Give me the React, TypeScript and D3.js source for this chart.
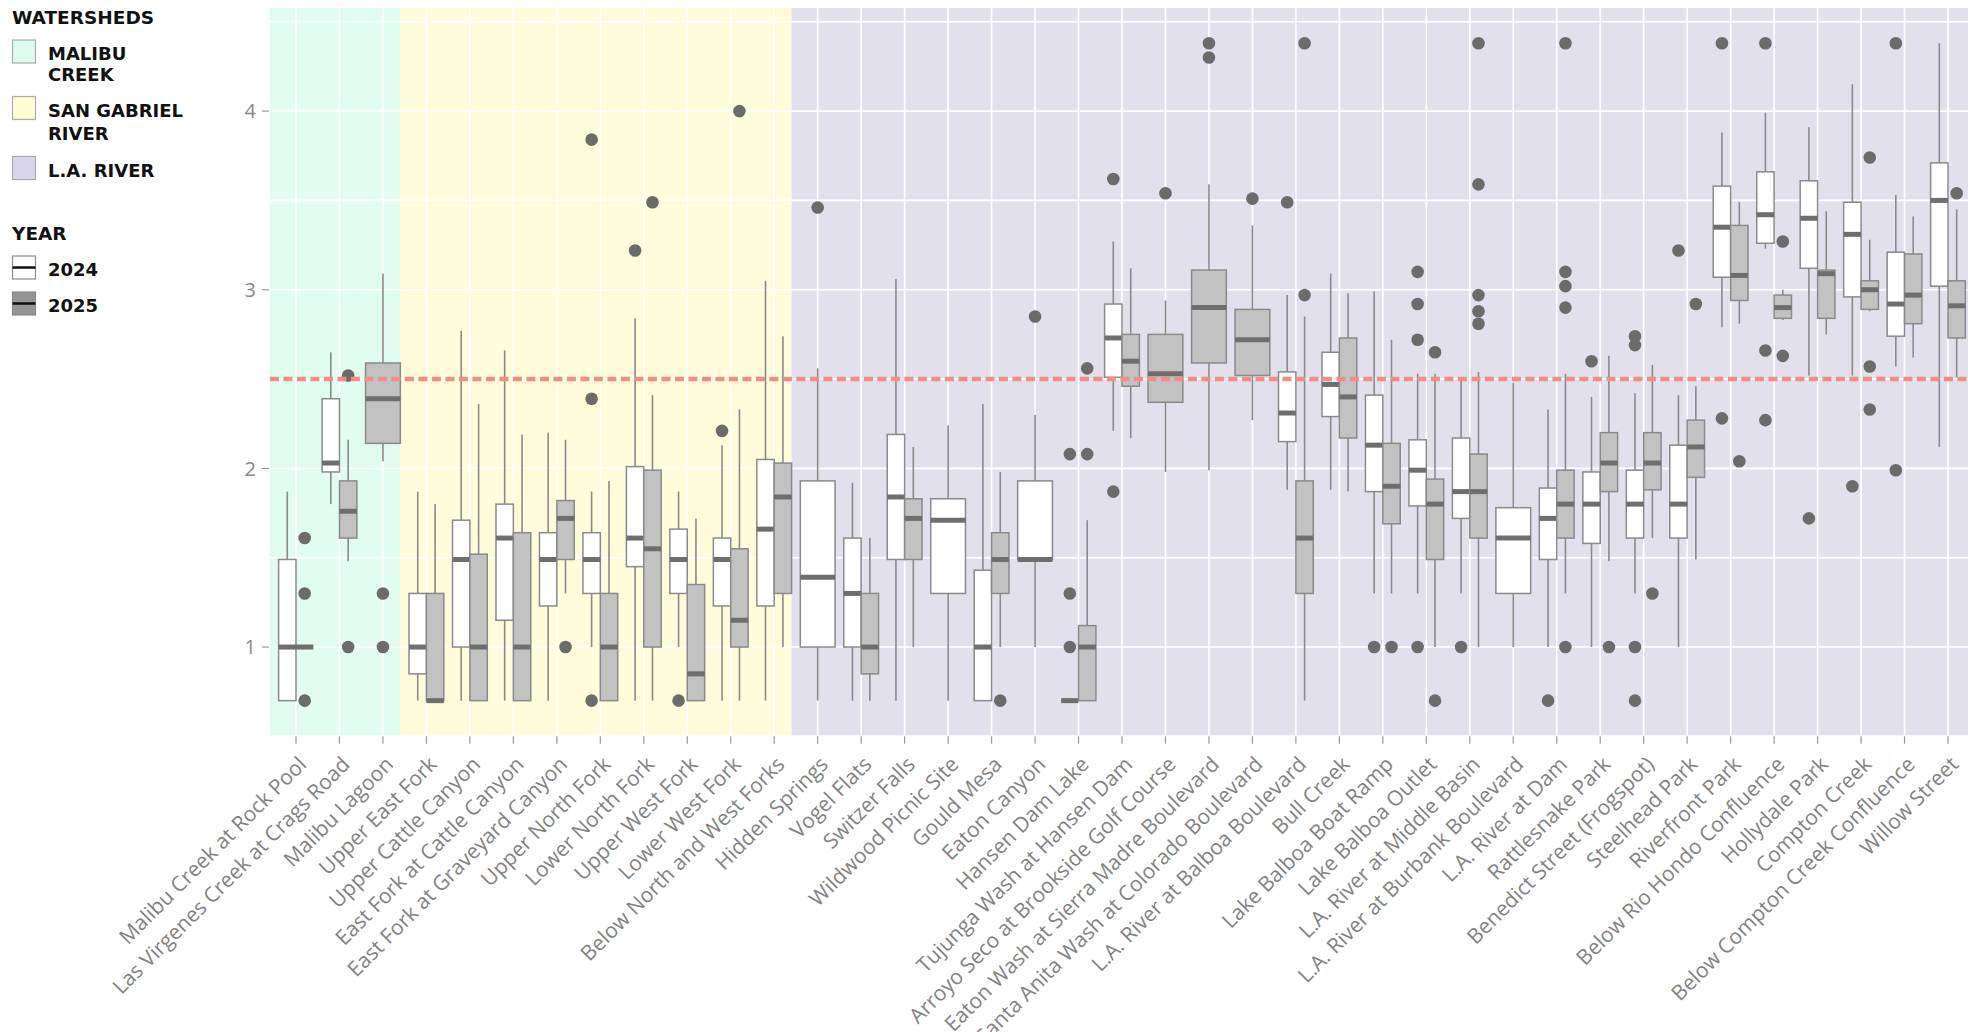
import React from 'react';
import * as d3 from 'd3';

const sites = [
  'Malibu Creek at Rock Pool', 'Las Virgenes Creek at Crags Road', 'Malibu Lagoon',
  'Upper East Fork', 'Upper Cattle Canyon', 'East Fork at Cattle Canyon', 'East Fork at Graveyard Canyon',
  'Upper North Fork', 'Lower North Fork', 'Upper West Fork', 'Lower West Fork', 'Below North and West Forks',
  'Hidden Springs', 'Vogel Flats', 'Switzer Falls', 'Wildwood Picnic Site', 'Gould Mesa', 'Eaton Canyon',
  'Hansen Dam Lake', 'Tujunga Wash at Hansen Dam', 'Arroyo Seco at Brookside Golf Course',
  'Eaton Wash at Sierra Madre Boulevard', 'Santa Anita Wash at Colorado Boulevard', 'L.A. River at Balboa Boulevard',
  'Bull Creek', 'Lake Balboa Boat Ramp', 'Lake Balboa Outlet', 'L.A. River at Middle Basin',
  'L.A. River at Burbank Boulevard', 'L.A. River at Dam', 'Rattlesnake Park', 'Benedict Street (Frogspot)',
  'Steelhead Park', 'Riverfront Park', 'Below Rio Hondo Confluence', 'Hollydale Park', 'Compton Creek',
  'Below Compton Creek Confluence', 'Willow Street',
];

const watersheds = ['MALIBU CREEK', 'SAN GABRIEL RIVER', 'L.A. RIVER'];
const watershedLegendLines = [['MALIBU', 'CREEK'], ['SAN GABRIEL', 'RIVER'], ['L.A. RIVER']];
const watershedSiteCounts = [3, 9, 27];
const watershedColors = ['#E1FCF0', '#FEFCDA', '#E3E0EE'];
const watershedLegendColors = ['#DDFBEE', '#FFFDD3', '#DAD6E9'];

const years = ['2024', '2025'];
const yearFills = ['#FFFFFF', '#C2C2C2'];
const yTicks = [1, 2, 3, 4];
const yGrid = [1, 1.5, 2, 2.5, 3, 3.5, 4, 4.5];
const threshold = 2.5;

const q1_2024 = [0.7, 1.98, null, 0.85, 1.0, 1.15, 1.23, 1.3, 1.45, 1.3, 1.23, 1.23, 1.0, 1.0, 1.49, 1.3, 0.7, 1.49, 0.7, 2.51, null, null, null, 2.15, 2.29, 1.87, 1.79, 1.72, 1.3, 1.49, 1.58, 1.61, 1.61, 3.07, 3.26, 3.12, 2.96, 2.74, 3.02];
const med_2024 = [1.0, 2.03, null, 1.0, 1.49, 1.61, 1.49, 1.49, 1.61, 1.49, 1.49, 1.66, 1.39, 1.3, 1.84, 1.71, 1.0, 1.49, 0.7, 2.73, null, null, null, 2.31, 2.47, 2.13, 1.99, 1.87, 1.61, 1.72, 1.80, 1.80, 1.80, 3.35, 3.42, 3.40, 3.31, 2.92, 3.50];
const q3_2024 = [1.49, 2.39, null, 1.3, 1.71, 1.80, 1.64, 1.64, 2.01, 1.66, 1.61, 2.05, 1.93, 1.61, 2.19, 1.83, 1.43, 1.93, 0.7, 2.92, null, null, null, 2.54, 2.65, 2.41, 2.16, 2.17, 1.78, 1.89, 1.98, 1.99, 2.13, 3.58, 3.66, 3.61, 3.49, 3.21, 3.71];
const lo_2024 = [0.7, 1.80, null, 0.7, 0.7, 0.7, 0.7, 1.0, 0.7, 1.0, 0.7, 0.7, 0.7, 0.7, 0.7, 0.7, 0.7, 1.0, 0.7, 2.21, null, null, null, 1.88, 1.88, 1.3, 1.3, 1.3, 1.0, 1.0, 1.0, 1.3, 1.0, 2.79, 3.23, 2.52, 2.52, 2.57, 2.12];
const hi_2024 = [1.87, 2.65, null, 1.87, 2.77, 2.66, 2.20, 1.87, 2.84, 1.87, 2.13, 3.05, 2.56, 1.92, 3.06, 2.24, 2.36, 2.30, 0.7, 3.27, null, null, null, 2.97, 3.09, 2.99, 2.53, 2.49, 2.48, 2.33, 2.40, 2.42, 2.41, 3.88, 3.99, 3.91, 4.15, 3.53, 4.38];
const out_2024 = [[], [], [], [], [], [], [], [3.84, 2.39, 0.7], [3.22], [0.7], [2.21], [], [3.46], [], [], [], [], [2.85], [2.08, 1.3, 1.0], [3.62, 1.87], [], [], [], [3.49], [], [1.0], [3.10, 2.92, 2.72, 1.0], [1.0], [], [0.7], [2.60], [2.74, 2.69, 1.0, 0.7], [3.22], [4.38, 2.28], [4.38, 2.66, 2.27], [1.72], [1.90], [4.38, 1.99], []];

const q1_2025 = [1.0, 1.61, 2.14, 0.7, 0.7, 0.7, 1.49, 0.7, 1.0, 0.7, 1.0, 1.3, null, 0.85, 1.49, null, 1.3, null, 0.7, 2.46, 2.37, 2.59, 2.52, 1.3, 2.17, 1.69, 1.49, 1.61, null, 1.61, 1.87, 1.88, 1.95, 2.94, 2.84, 2.84, 2.89, 2.81, 2.73];
const med_2025 = [1.0, 1.76, 2.39, 0.7, 1.0, 1.0, 1.72, 1.0, 1.55, 0.85, 1.15, 1.84, null, 1.0, 1.72, null, 1.49, null, 1.0, 2.60, 2.53, 2.90, 2.72, 1.61, 2.40, 1.90, 1.80, 1.87, null, 1.80, 2.03, 2.03, 2.12, 3.08, 2.90, 3.09, 3.00, 2.97, 2.91];
const q3_2025 = [1.0, 1.93, 2.59, 1.3, 1.52, 1.64, 1.82, 1.3, 1.99, 1.35, 1.55, 2.03, null, 1.3, 1.83, null, 1.64, null, 1.12, 2.75, 2.75, 3.11, 2.89, 1.93, 2.73, 2.14, 1.94, 2.08, null, 1.99, 2.20, 2.20, 2.27, 3.36, 2.97, 3.11, 3.05, 3.20, 3.05];
const lo_2025 = [1.0, 1.48, 2.04, 0.7, 0.7, 0.7, 1.3, 0.7, 0.7, 0.7, 0.7, 1.0, null, 0.7, 1.0, null, 1.0, null, 0.7, 2.17, 1.98, 1.99, 2.27, 0.7, 1.87, 1.3, 1.0, 1.0, null, 1.3, 1.48, 1.61, 1.49, 2.81, 2.83, 2.75, 2.88, 2.62, 2.51];
const hi_2025 = [1.0, 2.16, 3.09, 1.8, 2.36, 2.19, 2.16, 1.93, 2.41, 1.72, 2.33, 2.74, null, 1.61, 2.12, null, 1.98, null, 1.71, 3.12, 2.94, 3.59, 3.36, 2.85, 2.98, 2.72, 2.53, 2.54, null, 2.53, 2.63, 2.58, 2.46, 3.49, 3.00, 3.44, 3.28, 3.41, 3.45];
const out_2025 = [[1.61, 1.3, 0.7], [2.52, 1.0], [1.3, 1.0], [], [], [], [1.0], [], [3.49], [], [4.0], [], [], [], [], [], [0.7], [], [2.56, 2.08], [], [3.54], [4.38, 4.30], [3.51], [4.38, 2.97], [], [1.0], [2.65, 0.7], [4.38, 3.59, 2.97, 2.88, 2.81], [], [4.38, 3.10, 3.02, 2.90, 1.0], [1.0], [1.3], [2.92], [2.04], [3.27, 2.63], [], [3.74, 2.57, 2.33], [], [3.54]];

const stats = [
  { q1: q1_2024, med: med_2024, q3: q3_2024, lo: lo_2024, hi: hi_2024, out: out_2024 },
  { q1: q1_2025, med: med_2025, q3: q3_2025, lo: lo_2025, hi: hi_2025, out: out_2025 },
];

const AXIS_FONT = "'Open Sans', 'Noto Sans', sans-serif";
const LEGEND_FONT = "'DejaVu Sans', sans-serif";

export default function App() {
  const W = 1968;
  const H = 1032;
  const x = d3.scalePoint<string>().domain(sites).range([296, 1948]);
  const step = x.step();
  const plotL = (x(sites[0]) as number) - 0.6 * step;
  const plotR = W;
  const y = d3.scaleLinear().domain([0.506, 4.577]).range([735.3, 8]);
  const plotT = 8;
  const plotB = 735.3;
  const bw = 0.4 * step;

  let start = 0;
  const regions = watershedSiteCounts.map((n, k) => {
    const first = sites[start];
    const last = sites[start + n - 1];
    start += n;
    const x0 = k === 0 ? plotL : (x(first) as number) - 0.6 * step;
    const x1 = k === watershedSiteCounts.length - 1 ? plotR : (x(last) as number) + 0.4 * step;
    return { x0, x1, color: watershedColors[k], name: watersheds[k] };
  });

  const boxes: any[] = [];
  sites.forEach((s, i) => {
    const cx = x(s) as number;
    const present = stats.map((st) => st.q1[i] !== null);
    const both = present[0] && present[1];
    stats.forEach((st, yi) => {
      if (!present[yi]) return;
      const w = both ? bw : 2 * bw;
      const bx = both ? (yi === 0 ? cx - bw / 2 : cx + bw / 2) : cx;
      boxes.push({
        key: s + yi, bx, w, fill: yearFills[yi],
        q1: st.q1[i] as number, med: st.med[i] as number, q3: st.q3[i] as number,
        lo: st.lo[i] as number, hi: st.hi[i] as number, out: st.out[i],
      });
    });
  });

  const legendTops = [40, 96.5, 156.5];
  const legendLineGap = [21, 23.5, 0];

  return (
    <div style={{ position: 'absolute', left: 0, top: 0, width: W, height: H, overflow: 'hidden', background: '#fff' }}>
      <svg width={W} height={H} style={{ display: 'block' }}>
        {regions.map((r) => (
          <rect key={r.name} x={r.x0} y={plotT} width={r.x1 - r.x0} height={plotB - plotT} fill={r.color} />
        ))}
        {yGrid.map((v) => (
          <line key={'gy' + v} x1={plotL} x2={plotR} y1={y(v)} y2={y(v)} stroke="#FFFFFF" strokeWidth={1.6} />
        ))}
        {sites.map((s) => (
          <line key={'gx' + s} x1={x(s)} x2={x(s)} y1={plotT} y2={plotB} stroke="#FFFFFF" strokeWidth={1.6} />
        ))}
        {yTicks.map((v) => (
          <g key={'yt' + v}>
            <line x1={262} x2={269} y1={y(v)} y2={y(v)} stroke="#9A9A9A" strokeWidth={1.2} />
            <text x={256} y={y(v)} dy="0.36em" textAnchor="end" fontFamily={AXIS_FONT} fontSize={20} fill="#888888">{v}</text>
          </g>
        ))}
        {sites.map((s) => {
          const cx = x(s) as number;
          return (
            <g key={'xt' + s}>
              <line x1={cx} x2={cx} y1={plotB + 1} y2={plotB + 8.5} stroke="#9A9A9A" strokeWidth={1.2} />
              <text transform={`translate(${cx + 1},${755}) rotate(-45)`} dy="0.72em" textAnchor="end"
                fontFamily={AXIS_FONT} fontSize={21} fill="#828282">{s}</text>
            </g>
          );
        })}
        {boxes.map((b) => (
          <g key={b.key}>
            <line x1={b.bx} x2={b.bx} y1={y(b.hi)} y2={y(b.q3)} stroke="#8A8A8A" strokeWidth={1.6} />
            <line x1={b.bx} x2={b.bx} y1={y(b.q1)} y2={y(b.lo)} stroke="#8A8A8A" strokeWidth={1.6} />
            <rect x={b.bx - b.w / 2} y={y(b.q3)} width={b.w} height={Math.max(0, y(b.q1) - y(b.q3))}
              fill={b.fill} stroke="#8A8A8A" strokeWidth={1.5} />
            <line x1={b.bx - b.w / 2} x2={b.bx + b.w / 2} y1={y(b.med)} y2={y(b.med)} stroke="#6E6E6E" strokeWidth={5} />
            {b.out.map((o: number, j: number) => (
              <circle key={j} cx={b.bx} cy={y(o)} r={6.3} fill="#6B6B6B" />
            ))}
          </g>
        ))}
        <line x1={plotL} x2={plotR} y1={y(threshold)} y2={y(threshold)} stroke="#F28D84" strokeWidth={4.5} strokeDasharray="9 4.5" />
        <g fontFamily={LEGEND_FONT} fontWeight="bold" fill="#111">
          <text x={12} y={24} fontSize={18.5}>WATERSHEDS</text>
          {watershedLegendLines.map((lines, k) => {
            const top = legendTops[k];
            return (
              <g key={'lw' + k}>
                <rect x={12.5} y={top} width={23} height={23} fill={watershedLegendColors[k]} stroke="#ABABAB" strokeWidth={1.2} />
                {lines.map((ln, li) => (
                  <text key={li} x={48} y={top + 20 + li * legendLineGap[k]} fontSize={18}>{ln}</text>
                ))}
              </g>
            );
          })}
          <text x={12} y={240} fontSize={18.5}>YEAR</text>
          {years.map((yr, k) => {
            const top = [256, 292][k];
            return (
              <g key={'ly' + yr}>
                <rect x={12.5} y={top} width={23} height={23} fill={k === 0 ? '#FFFFFF' : '#959595'} stroke="#8A8A8A" strokeWidth={1.2} />
                <line x1={12.5} x2={35.5} y1={top + 11.5} y2={top + 11.5} stroke="#111" strokeWidth={2.5} />
                <text x={48} y={top + 20} fontSize={18}>{yr}</text>
              </g>
            );
          })}
        </g>
      </svg>
    </div>
  );
}
